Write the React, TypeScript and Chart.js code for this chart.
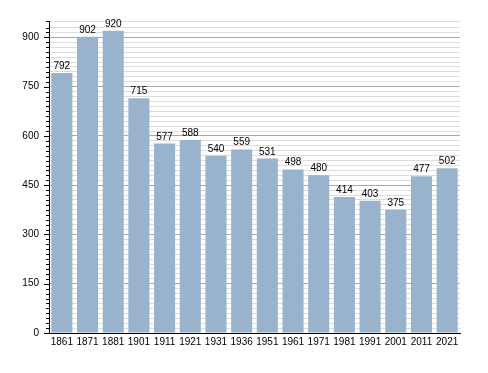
import React, { useEffect, useRef } from "react";
import { Chart, registerables } from "chart.js";

Chart.register(...registerables);

const years = ["1861", "1871", "1881", "1901", "1911", "1921", "1931", "1936", "1951", "1961", "1971", "1981", "1991", "2001", "2011", "2021"];
const population = [792, 902, 920, 715, 577, 588, 540, 559, 531, 498, 480, 414, 403, 375, 477, 502];
const yMax = 950;
const minorStep = 15;
const majorStep = 150;

const FONT = "'Liberation Sans', Arial, sans-serif";

const extrasPlugin = {
  id: "extras",
  afterDatasetsDraw(chart: any) {
    const ctx = chart.ctx;
    const meta = chart.getDatasetMeta(0);
    ctx.save();
    ctx.fillStyle = "#000";
    ctx.font = `10px ${FONT}`;
    ctx.textAlign = "center";
    ctx.textBaseline = "alphabetic";
    meta.data.forEach((bar: any, i: number) => {
      ctx.fillText(String(population[i]), bar.x, bar.y - 4);
    });
    const y = chart.scales.y;
    const left = chart.chartArea.left;
    ctx.strokeStyle = "#000";
    ctx.lineWidth = 1;
    y.ticks.forEach((t: any) => {
      const py = Math.round(y.getPixelForValue(t.value)) + 0.5;
      const major = t.value % majorStep === 0;
      const len = major ? 5 : 3;
      ctx.beginPath();
      ctx.moveTo(left - len, py);
      ctx.lineTo(left, py);
      ctx.stroke();
    });
    ctx.restore();
  },
};

export default function App() {
  const ref = useRef<HTMLCanvasElement>(null);
  useEffect(() => {
    const chart = new Chart(ref.current!, {
      type: "bar",
      data: {
        labels: years,
        datasets: [
          {
            data: population,
            backgroundColor: "rgb(153,179,204)",
            borderWidth: 0,
            categoryPercentage: 1,
            barPercentage: 0.82,
          },
        ],
      },
      options: {
        animation: false,
        responsive: false,
        maintainAspectRatio: false,
        layout: { padding: { top: 21, right: 28, left: 0, bottom: 0 } },
        plugins: { legend: { display: false }, tooltip: { enabled: false } },
        scales: {
          x: {
            grid: { display: false, drawTicks: false },
            border: { display: true, color: "#000", width: 1 },
            ticks: {
              color: "#000",
              font: { family: FONT, size: 10 },
              padding: 3,
              maxRotation: 0,
              autoSkip: false,
            },
            afterFit: (s: any) => {
              s.height = 40;
            },
          },
          y: {
            min: 0,
            max: yMax,
            grid: {
              drawTicks: false,
              color: (c: any) => {
                const v = c.tick ? c.tick.value : 0;
                return v % majorStep === 0 ? "#a8a8a8" : "#dddddd";
              },
              lineWidth: 1,
            },
            border: { display: true, color: "#000", width: 1 },
            ticks: {
              stepSize: minorStep,
              autoSkip: false,
              color: "#000",
              padding: 10,
              font: { family: FONT, size: 10 },
              callback: (v: any) => (Number(v) % majorStep === 0 ? String(v) : ""),
            },
            afterFit: (s: any) => {
              s.width = 49;
            },
          },
        },
      },
      plugins: [extrasPlugin],
    });
    return () => chart.destroy();
  }, []);
  return (
    <div style={{ position: "fixed", left: 0, top: 0, width: 488, height: 373, background: "#fff" }}>
      <canvas ref={ref} width={488} height={373} style={{ width: 488, height: 373 }} />
    </div>
  );
}
